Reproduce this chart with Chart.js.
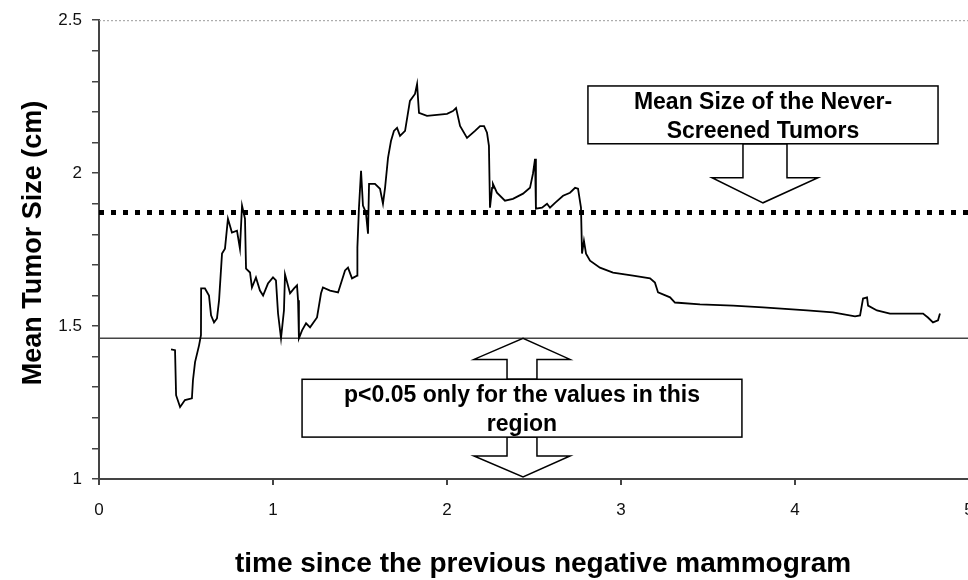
<!DOCTYPE html>
<html>
<head>
<meta charset="utf-8">
<script src="https://cdn.jsdelivr.net/npm/chart.js@4.4.1/dist/chart.umd.min.js"></script>
<style>
  html, body { margin: 0; padding: 0; background: #fff; overflow: hidden; }
  #myChart { display: block; }
</style>
</head>
<body>
<canvas id="myChart" width="1000" height="580"></canvas>
<script>
'use strict'
// ==> data
let timeYears = [0.414, 0.437, 0.443, 0.466, 0.494, 0.534, 0.540, 0.552, 0.575, 0.586,
    0.587, 0.609, 0.632, 0.644, 0.661, 0.678, 0.690, 0.707, 0.724, 0.741,
    0.764, 0.793, 0.810, 0.822, 0.839, 0.845, 0.868, 0.879, 0.902, 0.925,
    0.943, 0.971, 1.000, 1.017, 1.029, 1.046, 1.063, 1.069, 1.098, 1.121,
    1.138, 1.144, 1.149, 1.167, 1.190, 1.213, 1.253, 1.276, 1.287, 1.328,
    1.374, 1.414, 1.431, 1.454, 1.483, 1.485, 1.494, 1.506, 1.517, 1.534,
    1.546, 1.552, 1.586, 1.615, 1.632, 1.644, 1.661, 1.678, 1.695, 1.713,
    1.730, 1.759, 1.787, 1.816, 1.828, 1.839, 1.885, 2.000, 2.034, 2.052,
    2.075, 2.115, 2.161, 2.190, 2.213, 2.230, 2.241, 2.247, 2.259, 2.264,
    2.287, 2.333, 2.379, 2.437, 2.477, 2.494, 2.506, 2.511, 2.546, 2.575,
    2.592, 2.621, 2.667, 2.707, 2.736, 2.753, 2.770, 2.776, 2.787, 2.799,
    2.822, 2.879, 2.954, 3.069, 3.167, 3.195, 3.213, 3.282, 3.310, 3.454,
    3.644, 3.816, 4.069, 4.218, 4.345, 4.374, 4.391, 4.414, 4.420, 4.471,
    4.546, 4.736, 4.764, 4.793, 4.822, 4.833];
let meanSize = [1.424, 1.421, 1.274, 1.235, 1.258, 1.264, 1.323, 1.382, 1.437, 1.470,
    1.623, 1.623, 1.600, 1.535, 1.512, 1.525, 1.584, 1.737, 1.753, 1.851,
    1.806, 1.812, 1.753, 1.894, 1.851, 1.688, 1.675, 1.626, 1.659, 1.616,
    1.600, 1.639, 1.659, 1.649, 1.541, 1.460, 1.551, 1.669, 1.607, 1.623,
    1.633, 1.584, 1.460, 1.486, 1.509, 1.496, 1.528, 1.607, 1.626, 1.616,
    1.610, 1.682, 1.691, 1.656, 1.665, 1.757, 1.887, 2.008, 1.894, 1.871,
    1.802, 1.965, 1.965, 1.949, 1.900, 1.952, 2.050, 2.105, 2.138, 2.148,
    2.122, 2.138, 2.236, 2.259, 2.291, 2.197, 2.187, 2.194, 2.203, 2.213,
    2.154, 2.115, 2.138, 2.154, 2.154, 2.132, 2.089, 1.887, 1.952, 1.965,
    1.936, 1.910, 1.916, 1.933, 1.952, 1.998, 2.047, 1.884, 1.887, 1.900,
    1.887, 1.903, 1.926, 1.936, 1.952, 1.949, 1.887, 1.737, 1.779, 1.737,
    1.714, 1.691, 1.675, 1.665, 1.656, 1.642, 1.610, 1.594, 1.577, 1.571,
    1.567, 1.561, 1.551, 1.545, 1.532, 1.535, 1.590, 1.594, 1.567, 1.551,
    1.541, 1.541, 1.528, 1.512, 1.519, 1.541];
let neverScreenedMean = 1.871;
let significanceLimit = 1.46;
let xRange = [0, 5];
let yRange = [1, 2.5];
let yTickLabels = [1, 1.5, 2, 2.5];
let xTickLabels = [0, 1, 2, 3, 4, 5];
let xTitle = 'time since the previous negative mammogram';
let yTitle = 'Mean Tumor Size (cm)';
//__________________________________________________________________________________==<

let curvePoints = [];
for (let i = 0; i < timeYears.length; i++) {
    curvePoints.push({ x: timeYears[i], y: meanSize[i] });
}

// callouts, placed in data units
let callouts = [
    {
        lines: ['Mean Size of the Never-', 'Screened Tumors'],
        box: { x0: 2.810, x1: 4.822, yTop: 2.285, yBottom: 2.096 },
        arrows: [{ dir: 'down', stem: [3.701, 3.954], head: [3.523, 4.132], base: 1.985, tip: 1.903, tipX: 3.816 }]
    },
    {
        lines: ['p<0.05 only for the values in this', 'region'],
        box: { x0: 1.167, x1: 3.695, yTop: 1.326, yBottom: 1.137 },
        arrows: [
            { dir: 'up', stem: [2.345, 2.517], head: [2.155, 2.707], base: 1.391, tip: 1.460, tipX: 2.437 },
            { dir: 'down', stem: [2.345, 2.517], head: [2.155, 2.707], base: 1.075, tip: 1.007, tipX: 2.437 }
        ]
    }
];

let extrasPlugin = {
    id: 'extras',
    beforeDatasetsDraw(chart) {
        let ctx = chart.ctx;
        let a = chart.chartArea;
        ctx.save();
        ctx.strokeStyle = '#9a9a9a';
        ctx.lineWidth = 1;
        ctx.setLineDash([2, 2]);
        ctx.beginPath();
        ctx.moveTo(a.left, a.top + 0.5);
        ctx.lineTo(a.right, a.top + 0.5);
        ctx.moveTo(a.right - 0.5, a.top);
        ctx.lineTo(a.right - 0.5, a.bottom);
        ctx.stroke();
        ctx.restore();
    },
    afterDatasetsDraw(chart) {
        let ctx = chart.ctx;
        let xs = chart.scales.x;
        let ys = chart.scales.y;
        ctx.save();
        ctx.lineWidth = 1.5;
        ctx.strokeStyle = '#000';
        callouts.forEach(function (c) {
            let bx0 = xs.getPixelForValue(c.box.x0);
            let bx1 = xs.getPixelForValue(c.box.x1);
            let by0 = ys.getPixelForValue(c.box.yTop);
            let by1 = ys.getPixelForValue(c.box.yBottom);
            c.arrows.forEach(function (ar) {
                let edge = ar.dir === 'down' ? by1 : by0;
                let sl = xs.getPixelForValue(ar.stem[0]);
                let sr = xs.getPixelForValue(ar.stem[1]);
                let hl = xs.getPixelForValue(ar.head[0]);
                let hr = xs.getPixelForValue(ar.head[1]);
                let base = ys.getPixelForValue(ar.base);
                let tip = ys.getPixelForValue(ar.tip);
                let tx = xs.getPixelForValue(ar.tipX);
                ctx.beginPath();
                ctx.moveTo(sl, edge);
                ctx.lineTo(sl, base);
                ctx.lineTo(hl, base);
                ctx.lineTo(tx, tip);
                ctx.lineTo(hr, base);
                ctx.lineTo(sr, base);
                ctx.lineTo(sr, edge);
                ctx.closePath();
                ctx.fillStyle = '#fff';
                ctx.fill();
                ctx.stroke();
            });
            ctx.fillStyle = '#fff';
            ctx.fillRect(bx0, by0, bx1 - bx0, by1 - by0);
            ctx.strokeRect(bx0, by0, bx1 - bx0, by1 - by0);
            ctx.fillStyle = '#000';
            ctx.font = 'bold 23px "Liberation Sans", Arial, sans-serif';
            ctx.textAlign = 'center';
            ctx.textBaseline = 'alphabetic';
            let cx = (bx0 + bx1) / 2;
            ctx.fillText(c.lines[0], cx, by0 + 23);
            ctx.fillText(c.lines[1], cx, by0 + 52);
        });
        ctx.restore();
    },
    afterDraw(chart) {
        let ctx = chart.ctx;
        ctx.save();
        ctx.fillStyle = '#000';
        ctx.font = 'bold 28px "Liberation Sans", Arial, sans-serif';
        ctx.textAlign = 'center';
        ctx.textBaseline = 'alphabetic';
        ctx.fillText(xTitle, 543, 572);
        ctx.translate(41, 243);
        ctx.rotate(-Math.PI / 2);
        ctx.font = 'bold 27px "Liberation Sans", Arial, sans-serif';
        ctx.fillText(yTitle, 0, 0);
        ctx.restore();
    }
};

function chartRender() {
    let ctx = document.getElementById('myChart').getContext('2d');
    let myChart = new Chart(ctx, {
        type: 'line',
        data: {
            datasets: [{
                label: 'Mean tumor size',
                data: curvePoints,
                borderColor: '#000',
                borderWidth: 1.8,
                pointRadius: 0,
                tension: 0,
                order: 1
            }, {
                label: 'Never-screened mean',
                data: [{ x: xRange[0], y: neverScreenedMean }, { x: xRange[1], y: neverScreenedMean }],
                borderColor: '#000',
                borderWidth: 5,
                borderDash: [5, 7],
                borderCapStyle: 'butt',
                pointRadius: 0,
                order: 2
            }, {
                label: 'Significance limit',
                data: [{ x: xRange[0], y: significanceLimit }, { x: xRange[1], y: significanceLimit }],
                borderColor: '#444',
                borderWidth: 1.5,
                pointRadius: 0,
                order: 3
            }]
        },
        options: {
            responsive: false,
            animation: false,
            layout: { padding: { left: 0, top: 19, right: 31, bottom: 0 } },
            plugins: {
                legend: { display: false },
                tooltip: { enabled: false }
            },
            scales: {
                x: {
                    type: 'linear',
                    min: xRange[0],
                    max: xRange[1],
                    afterFit: function (s) { s.height = 101; },
                    afterBuildTicks: function (s) {
                        s.ticks = xTickLabels.map(function (v) { return { value: v }; });
                    },
                    ticks: {
                        color: '#111',
                        padding: 15,
                        maxRotation: 0,
                        font: { family: '"Liberation Sans", Arial, sans-serif', size: 17 }
                    },
                    grid: { drawOnChartArea: false, drawTicks: true, tickLength: 6, color: '#444', lineWidth: 2 },
                    border: { display: true, color: '#444', width: 2 }
                },
                y: {
                    min: yRange[0],
                    max: yRange[1],
                    afterFit: function (s) { s.width = 99; },
                    ticks: {
                        stepSize: 0.1,
                        color: '#111',
                        padding: 10,
                        font: { family: '"Liberation Sans", Arial, sans-serif', size: 17 },
                        callback: function (v) {
                            let r = Math.round(v * 10) / 10;
                            return yTickLabels.some(function (t) { return Math.abs(t - r) < 1e-6; }) ? String(r) : '';
                        }
                    },
                    grid: { drawOnChartArea: false, drawTicks: true, tickLength: 7, color: '#444', lineWidth: 1.5 },
                    border: { display: true, color: '#444', width: 2 }
                }
            }
        },
        plugins: [extrasPlugin]
    });
}
chartRender();
</script>
</body>
</html>
